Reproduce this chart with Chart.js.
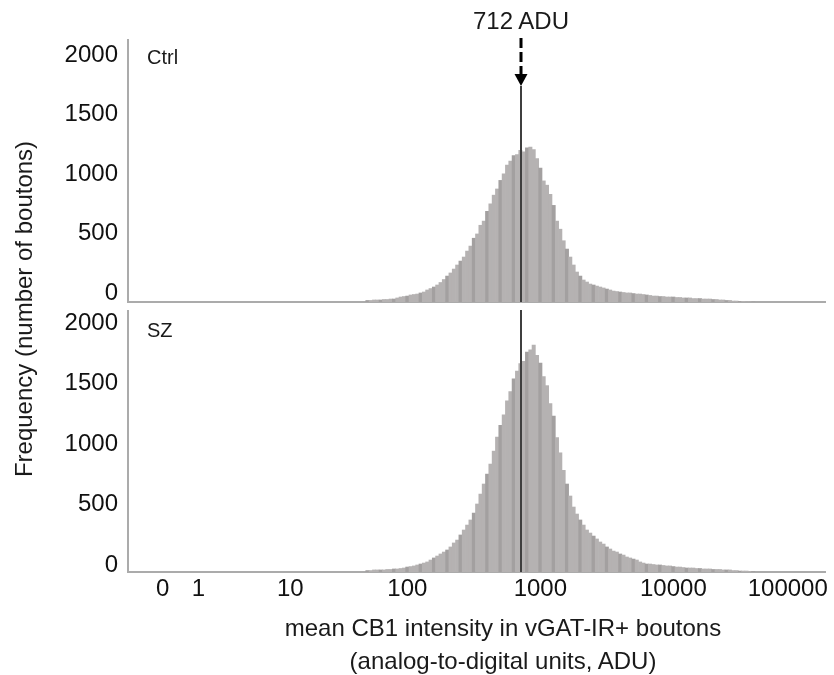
<!DOCTYPE html>
<html>
<head>
<meta charset="utf-8">
<script src="https://cdn.jsdelivr.net/npm/chart.js@4.4.0/dist/chart.umd.min.js"></script>
<style>
  body { margin: 0; background: #fff; font-family: "Liberation Sans", Arial, sans-serif; color: #1a1a1a; }
  #fig { position: relative; width: 834px; height: 675px; overflow: hidden; }
  canvas { position: absolute; left: 0; }
  .txt { position: absolute; white-space: nowrap; }
  #ytitle { left: -176px; top: 296px; width: 400px; text-align: center; font-size: 24px; line-height: 26px; transform: rotate(-90deg); }
  #xtitle { left: 203px; top: 611px; width: 600px; text-align: center; font-size: 24px; line-height: 33px; }
  #median { left: 421px; top: 7px; width: 200px; text-align: center; font-size: 24px; line-height: 28px; }
  .panel { left: 147px; font-size: 20px; line-height: 22px; }
</style>
</head>
<body>
<div id="fig">
  <canvas id="ctrl" width="834" height="310" style="top:0"></canvas>
  <canvas id="sz" width="834" height="365" style="top:310px"></canvas>
  <div class="txt panel" style="top:46px">Ctrl</div>
  <div class="txt panel" style="top:319px">SZ</div>
  <div class="txt" id="median">712 ADU</div>
  <div class="txt" id="ytitle">Frequency (number of boutons)</div>
  <div class="txt" id="xtitle">mean CB1 intensity in vGAT-IR+ boutons<br>(analog-to-digital units, ADU)</div>
</div>
<script>
// histogram bins, log10(ADU)
const binStart = 1.70;
const binWidth = 0.025;

const ctrlCounts = [
  13, 13, 17, 17, 17, 21, 21, 25, 25, 34,
  42, 46, 50, 59, 63, 67, 76, 84, 101, 113,
  126, 143, 164, 189, 218, 244, 277, 311, 344, 378,
  428, 470, 536, 572, 645, 680, 762, 825, 898, 950,
  1022, 1078, 1150, 1185, 1230, 1240, 1275, 1262, 1296, 1302,
  1280, 1205, 1125, 1018, 982, 905, 812, 680, 612, 515,
  445, 378, 311, 252, 218, 185, 168, 151, 143, 134,
  126, 118, 109, 101, 92, 88, 84, 80, 76, 76,
  71, 67, 67, 63, 59, 55, 50, 50, 46, 46,
  42, 42, 42, 38, 38, 34, 34, 34, 29, 29,
  29, 25, 25, 25, 21, 21, 17, 17, 13, 13,
  8, 8, 4, 4, 0, 0, 0
];

const szCounts = [
  12, 12, 17, 17, 17, 17, 21, 21, 25, 25,
  29, 33, 41, 45, 50, 58, 66, 74, 83, 99,
  116, 132, 149, 165, 182, 207, 240, 264, 306, 347,
  388, 430, 487, 562, 644, 727, 809, 892, 999, 1115,
  1212, 1298, 1415, 1490, 1596, 1660, 1722, 1740, 1818, 1835,
  1875, 1790, 1726, 1615, 1540, 1392, 1288, 1110, 985, 840,
  727, 628, 537, 479, 430, 388, 347, 322, 297, 273,
  248, 231, 207, 190, 173, 165, 149, 140, 124, 116,
  107, 99, 83, 74, 66, 66, 62, 58, 58, 54,
  50, 50, 45, 41, 41, 37, 33, 33, 33, 29,
  29, 25, 25, 25, 21, 21, 21, 17, 17, 17,
  12, 12, 8, 8, 8, 4, 4
];

const medianADU = 712;

// x tick labels and where they sit on the log10 axis
const xTickLabels = ['0', '1', '10', '100', '1000', '10000', '100000'];
const xTickPos = [0.16, 0.43, 1.12, 2, 3, 4, 4.86];
const yTicks = [0, 500, 1000, 1500, 2000];

const FONT = '"Liberation Sans", Arial, sans-serif';
const AXIS = '#ababab';

// vertical median marker (and the dashed arrow on the top panel)
const medianLine = {
  id: 'medianLine',
  afterDatasetsDraw(chart, args, opts) {
    const { ctx, chartArea, scales } = chart;
    const x = Math.round(scales.x.getPixelForValue(Math.log10(medianADU)));
    ctx.save();
    ctx.strokeStyle = '#3f3f3f';
    ctx.lineWidth = 2;
    ctx.beginPath();
    ctx.moveTo(x, opts.from != null ? opts.from : chartArea.top);
    ctx.lineTo(x, chartArea.bottom);
    ctx.stroke();
    if (opts.arrow) {
      ctx.strokeStyle = '#000';
      ctx.lineWidth = 3;
      ctx.setLineDash([10, 4]);
      ctx.beginPath();
      ctx.moveTo(x, 38);
      ctx.lineTo(x, 75);
      ctx.stroke();
      ctx.setLineDash([]);
      ctx.fillStyle = '#000';
      ctx.beginPath();
      ctx.moveTo(x - 6.5, 74);
      ctx.lineTo(x + 6.5, 74);
      ctx.lineTo(x, 86);
      ctx.closePath();
      ctx.fill();
    }
    ctx.restore();
  }
};

// drop the label padding chart.js reserves, the panels are placed by hand
function noPad(s) {
  s.paddingTop = 0;
  s.paddingBottom = 0;
  s.paddingLeft = 0;
  s.paddingRight = 0;
}

function makePanel(id, counts, opt) {
  const data = counts.map((c, i) => ({ x: binStart + i * binWidth, y: c }));
  return new Chart(document.getElementById(id), {
    type: 'bar',
    data: {
      datasets: [{
        data,
        barPercentage: 1,
        categoryPercentage: 1,
        borderWidth: 0,
        backgroundColor: (c) => (c.dataIndex % 4 === 0 ? '#a3a0a0' : '#b5b2b2')
      }]
    },
    options: {
      responsive: false,
      animation: false,
      events: [],
      layout: { autoPadding: false, padding: { top: opt.padTop, right: 9, left: 0, bottom: 0 } },
      plugins: {
        legend: { display: false },
        tooltip: { enabled: false },
        medianLine: { from: opt.lineFrom, arrow: opt.arrow }
      },
      scales: {
        x: {
          type: 'linear',
          offset: false,
          min: -0.1,
          max: 5.14,
          grid: { display: false, drawTicks: false, offset: false },
          border: { display: true, color: AXIS, width: 2 },
          afterBuildTicks: (s) => { s.ticks = xTickPos.map(v => ({ value: v })); },
          afterFit: (s) => { s.height = opt.xHeight; noPad(s); },
          ticks: {
            display: opt.showX,
            padding: 3,
            color: '#111',
            font: { family: FONT, size: 24 },
            maxRotation: 0,
            autoSkip: false,
            callback: (v, i) => xTickLabels[i]
          }
        },
        y: {
          min: 0,
          max: opt.yMax,
          grid: { display: false, drawTicks: false },
          border: { display: true, color: AXIS, width: 2 },
          afterBuildTicks: (s) => { s.ticks = yTicks.map(v => ({ value: v })); },
          afterFit: (s) => { s.width = 128; noPad(s); },
          ticks: {
            padding: 10,
            labelOffset: opt.labelOffset,
            color: '#111',
            font: { family: FONT, size: 24 },
            callback: (v) => String(v)
          }
        }
      }
    },
    plugins: [medianLine]
  });
}

makePanel('ctrl', ctrlCounts, {
  padTop: 40, xHeight: 8, showX: false, yMax: 2202, labelOffset: -9, lineFrom: 86, arrow: true
});
makePanel('sz', szCounts, {
  padTop: 0, xHeight: 103, showX: true, yMax: 2165, labelOffset: -7, lineFrom: null, arrow: false
});
</script>
</body>
</html>
